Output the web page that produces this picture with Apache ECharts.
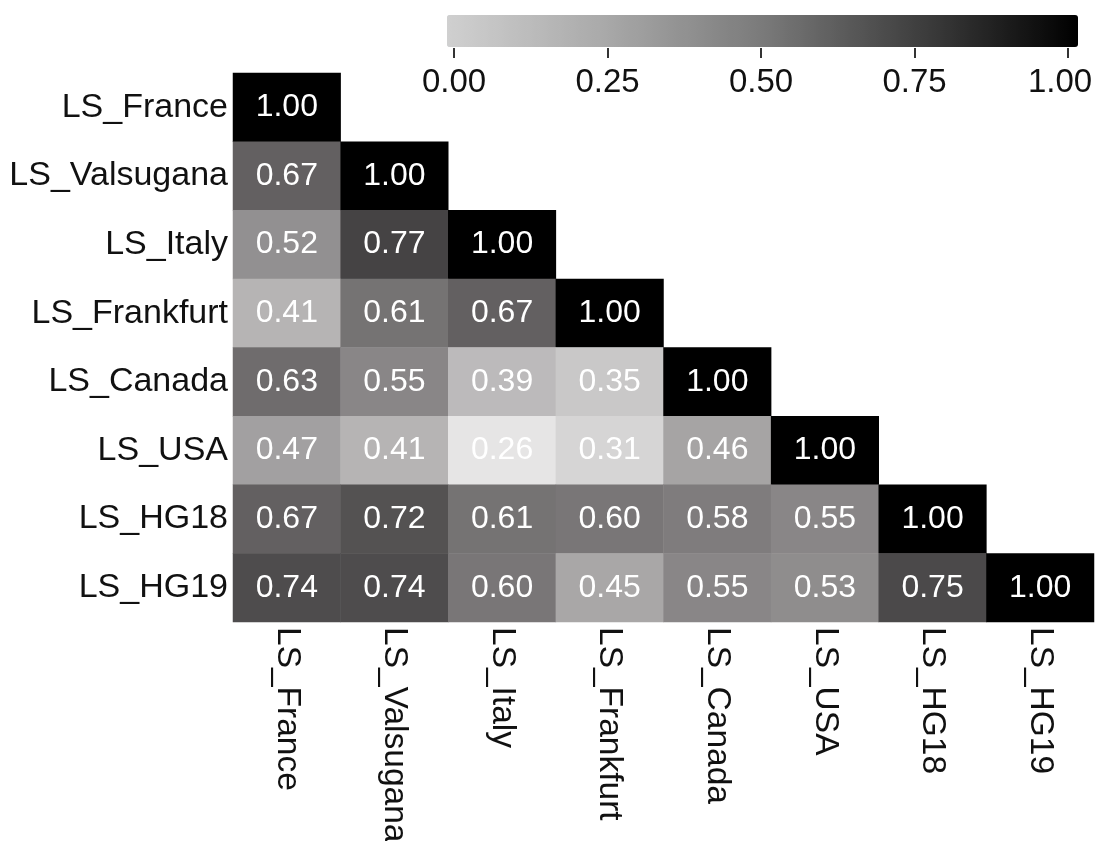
<!DOCTYPE html>
<html>
<head>
<meta charset="utf-8">
<script src="https://cdn.jsdelivr.net/npm/echarts@6/dist/echarts.min.js"></script>
<style>
html,body{margin:0;padding:0;background:#fff;}
#chart{width:1097px;height:841px;}
</style>
</head>
<body>
<div id="chart"></div>
<script>
// Categories (rows top->bottom, columns left->right)
const categories = ['LS_France','LS_Valsugana','LS_Italy','LS_Frankfurt','LS_Canada','LS_USA','LS_HG18','LS_HG19'];
// Lower-triangle correlation rows (including diagonal)
const rowFrance    = [1.00];
const rowValsugana = [0.67, 1.00];
const rowItaly     = [0.52, 0.77, 1.00];
const rowFrankfurt = [0.41, 0.61, 0.67, 1.00];
const rowCanada    = [0.63, 0.55, 0.39, 0.35, 1.00];
const rowUSA       = [0.47, 0.41, 0.26, 0.31, 0.46, 1.00];
const rowHG18      = [0.67, 0.72, 0.61, 0.60, 0.58, 0.55, 1.00];
const rowHG19      = [0.74, 0.74, 0.60, 0.45, 0.55, 0.53, 0.75, 1.00];
// Colour bar tick labels
const colorbarTicks = [0.00, 0.25, 0.50, 0.75, 1.00];

const rows = [rowFrance, rowValsugana, rowItaly, rowFrankfurt, rowCanada, rowUSA, rowHG18, rowHG19];
const heatData = [];
rows.forEach((r, yi) => r.forEach((v, xi) => heatData.push([xi, yi, v])));

const FONT = "'Liberation Sans', Arial, Helvetica, sans-serif";
const chart = echarts.init(document.getElementById('chart'), null, {renderer: 'canvas'});
chart.setOption({
  animation: false,
  backgroundColor: '#ffffff',
  textStyle: {fontFamily: FONT},
  grid: [
    {left: 233, top: 73, width: 861, height: 549, containLabel: false, outerBoundsMode: 'none'},
    {left: 454, top: 40, width: 614, height: 8, containLabel: false, outerBoundsMode: 'none'}
  ],
  xAxis: [
    {
      type: 'category', data: categories, gridIndex: 0, position: 'bottom',
      axisLine: {show: false}, axisTick: {show: false}, splitLine: {show: false},
      axisLabel: {rotate: -90, margin: 5, fontSize: 33.5, color: '#111', fontFamily: FONT, interval: 0}
    },
    {
      type: 'value', gridIndex: 1, min: 0, max: 1, interval: 0.25, position: 'bottom',
      axisLine: {show: false}, splitLine: {show: false},
      axisTick: {show: true, length: 10, lineStyle: {color: '#333', width: 2}},
      axisLabel: {margin: 18, fontSize: 33, color: '#111', fontFamily: FONT,
        formatter: v => {
          const t = colorbarTicks.find(c => Math.abs(c - v) < 1e-9);
          return t === colorbarTicks[colorbarTicks.length - 1] ? '{last|' + t.toFixed(2) + '}' : t.toFixed(2);
        },
        rich: {last: {fontSize: 33, color: '#111', fontFamily: FONT, padding: [0, 16, 0, 0]}}
      }
    }
  ],
  yAxis: [
    {
      type: 'category', data: categories, gridIndex: 0, inverse: true,
      axisLine: {show: false}, axisTick: {show: false}, splitLine: {show: false},
      axisLabel: {margin: 5, fontSize: 34, color: '#111', fontFamily: FONT, interval: 0,
        padding: [9, 0, 0, 0]}
    },
    {type: 'value', gridIndex: 1, show: false, min: 0, max: 1}
  ],
  visualMap: [
    {
      type: 'continuous', seriesIndex: 0, min: 0.26, max: 1, show: false,
      inRange: {color: ['#e6e5e5', '#6f6c6d', '#000000']}
    },
    {
      type: 'continuous', seriesIndex: 1, min: 0, max: 1, show: true,
      orient: 'horizontal', left: 447, top: 15, itemWidth: 32, itemHeight: 631,
      calculable: false, text: ['', ''], showLabel: false, padding: 0,
      inRange: {color: ['#d0d0d0', '#a9a9a9', '#7a7a7a', '#3e3e3e', '#000000']}
    }
  ],
  series: [
    {
      type: 'heatmap', xAxisIndex: 0, yAxisIndex: 0, data: heatData,
      label: {show: true, color: '#ffffff', fontSize: 32, fontFamily: FONT,
        padding: [9, 0, 0, 0],
        formatter: p => p.value[2].toFixed(2)},
      itemStyle: {borderWidth: 0},
      emphasis: {disabled: true}
    },
    {type: 'scatter', xAxisIndex: 1, yAxisIndex: 1, data: [], silent: true}
  ]
});
</script>
</body>
</html>
